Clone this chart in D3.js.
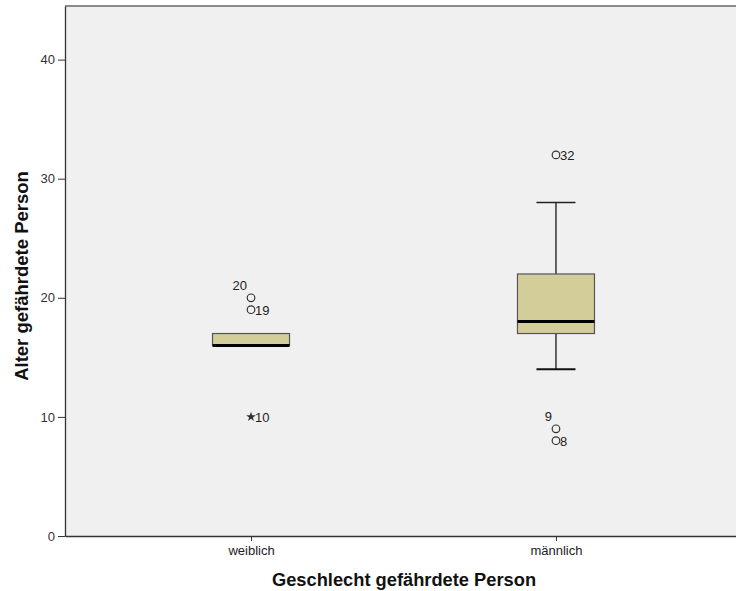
<!DOCTYPE html>
<html>
<head>
  <meta charset="UTF-8">
  <title>Alter nach Geschlecht</title>
  <script src="https://d3js.org/d3.v7.min.js"></script>
  <style>
    body { margin: 0; padding: 0; background: #fff; font-family: Arial, "Liberation Sans", sans-serif; }
    svg { display: block; }
  </style>
</head>
<body>
<svg></svg>
<script>
// data
const categories = ["weiblich", "männlich"];
const q1 = [16, 17];
const median = [16, 18];
const q3 = [17, 22];
const whiskerLow = [16, 14];
const whiskerHigh = [17, 28];
const yTicks = [0, 10, 20, 30, 40];
// outliers: category, value, case id, marker, label side
const outCat = ["weiblich", "weiblich", "weiblich", "männlich", "männlich", "männlich"];
const outVal = [20, 19, 10, 32, 9, 8];
const outId = ["20", "19", "10", "32", "9", "8"];
const outType = ["circle", "circle", "star", "circle", "circle", "circle"];
const outSide = ["left", "right", "right", "right", "left", "right"];

let width = 736, height = 591;
let svg = d3.select("svg").attr("width", width).attr("height", height);

const plotL = 65, plotT = 6, plotB = 536, plotR = 742;

let y = d3.scaleLinear().domain([0, 44.5]).range([plotB, plotT]);
let x = d3.scalePoint().domain(categories).range([plotL, plotR]).padding(0.61);

// plot background
svg.append("rect")
  .attr("x", plotL).attr("y", plotT)
  .attr("width", plotR - plotL).attr("height", plotB - plotT)
  .attr("fill", "#f0f0f0");

// top frame line
svg.append("line").attr("x1", plotL).attr("x2", width).attr("y1", plotT).attr("y2", plotT)
  .attr("stroke", "#8a8a8a").attr("stroke-width", 2);

// y axis
let yAxis = d3.axisLeft(y).tickValues(yTicks).tickSize(7).tickPadding(3).tickSizeOuter(0);
let gy = svg.append("g").attr("transform", `translate(${plotL},0)`).call(yAxis);
gy.select(".domain").attr("stroke", "#333").attr("stroke-width", 1.3);
gy.selectAll(".tick line").attr("stroke", "#333");
gy.selectAll(".tick text").attr("fill", "#333").style("font-size", "13px")
  .style("font-family", "Arial, 'Liberation Sans', sans-serif");

// x axis
let xAxis = d3.axisBottom(x).tickSize(5).tickPadding(5).tickSizeOuter(0);
let gx = svg.append("g").attr("transform", `translate(0,${plotB})`).call(xAxis);
gx.select(".domain").attr("stroke", "#333").attr("stroke-width", 1.3);
gx.selectAll(".tick line").attr("stroke", "#333");
gx.selectAll(".tick text").attr("fill", "#222").style("font-size", "13px")
  .style("font-family", "Arial, 'Liberation Sans', sans-serif");

// axis titles
svg.append("text")
  .attr("transform", "translate(28,276) rotate(-90)")
  .attr("text-anchor", "middle")
  .style("font-size", "18.5px").style("font-weight", "bold").attr("fill", "#111")
  .text("Alter gefährdete Person");

svg.append("text")
  .attr("x", 404).attr("y", 586)
  .attr("text-anchor", "middle")
  .style("font-size", "18.3px").style("font-weight", "bold").attr("fill", "#111")
  .text("Geschlecht gefährdete Person");

// boxes
const boxW = 77, capW = 39;
let g = svg.append("g");
categories.forEach((c, i) => {
  const cx = x(c);
  // whiskers
  g.append("line").attr("x1", cx).attr("x2", cx)
    .attr("y1", y(whiskerHigh[i])).attr("y2", y(q3[i]))
    .attr("stroke", "#333").attr("stroke-width", 1.5);
  g.append("line").attr("x1", cx).attr("x2", cx)
    .attr("y1", y(q1[i])).attr("y2", y(whiskerLow[i]))
    .attr("stroke", "#333").attr("stroke-width", 1.5);
  if (whiskerHigh[i] > q3[i]) {
    g.append("line").attr("x1", cx - capW / 2).attr("x2", cx + capW / 2)
      .attr("y1", y(whiskerHigh[i])).attr("y2", y(whiskerHigh[i]))
      .attr("stroke", "#222").attr("stroke-width", 1.5);
  }
  if (whiskerLow[i] < q1[i]) {
    g.append("line").attr("x1", cx - capW / 2).attr("x2", cx + capW / 2)
      .attr("y1", y(whiskerLow[i])).attr("y2", y(whiskerLow[i]))
      .attr("stroke", "#111").attr("stroke-width", 2.2);
  }
  g.append("rect")
    .attr("x", cx - boxW / 2).attr("y", y(q3[i]))
    .attr("width", boxW).attr("height", y(q1[i]) - y(q3[i]))
    .attr("fill", "#d3ce99").attr("stroke", "#555").attr("stroke-width", 1.2);
  g.append("line").attr("x1", cx - boxW / 2).attr("x2", cx + boxW / 2)
    .attr("y1", y(median[i])).attr("y2", y(median[i]))
    .attr("stroke", "#000").attr("stroke-width", 3);
});

// outliers
const star = d3.symbol().type(d3.symbolStar).size(30);
outVal.forEach((v, i) => {
  const cx = x(outCat[i]), cy = y(v);
  if (outType[i] === "circle") {
    g.append("circle").attr("cx", cx).attr("cy", cy).attr("r", 3.8)
      .attr("fill", "none").attr("stroke", "#333").attr("stroke-width", 1.2);
  } else {
    g.append("path").attr("d", star).attr("transform", `translate(${cx},${cy})`)
      .attr("fill", "#333");
  }
  let t = g.append("text").style("font-size", "13px").attr("fill", "#222");
  if (outSide[i] === "right") {
    t.attr("x", cx + 4).attr("y", cy + 5).text(outId[i]);
  } else {
    t.attr("x", cx - 4).attr("y", cy - 8).attr("text-anchor", "end").text(outId[i]);
  }
});
</script>
</body>
</html>
